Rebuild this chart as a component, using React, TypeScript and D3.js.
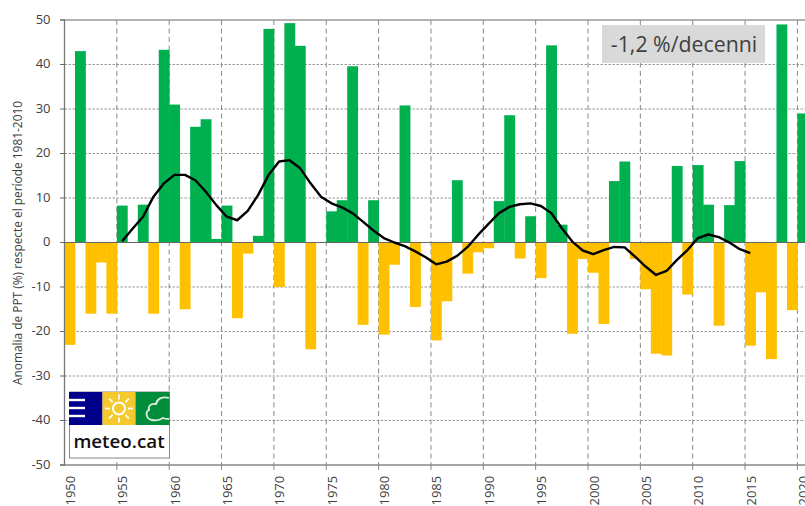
import React from "react";
import * as d3 from "d3";

const years = d3.range(1950, 2021);
const anomalies = [
  -23, 43, -16, -4.5, -16, 8.3, 0, 8.5, -16, 43.3,
  31, -15, 26, 27.7, 0.8, 8.3, -17, -2.5, 1.5, 48,
  -10, 49.3, 44.2, -24, 0, 7, 9.5, 39.6, -18.5, 9.5,
  -20.7, -5, 30.8, -14.5, 0, -22, -13.2, 14, -7, -2.2,
  -1.3, 9.3, 28.6, -3.6, 5.9, -8, 44.3, 4, -20.5, -3.7,
  -6.8, -18.3, 13.8, 18.2, -3.7, -10.5, -25, -25.4, 17.2, -11.7,
  17.4, 8.5, -18.7, 8.4, 18.3, -23.2, -11.2, -26.2, 49, -15.2,
  29,
];
const smoothYears = d3.range(1955, 2016);
const smoothValues = [
  0.3, 3.1, 5.8, 10.3, 13.3, 15.2, 15.2, 14, 11.4, 8.4,
  5.8, 5, 7.1, 10.7, 15.2, 18.2, 18.5, 16.7, 13.3, 10.3,
  8.8, 7.9, 6.6, 4.7, 2.7, 1, 0, -0.8, -2, -3.3,
  -4.9, -4.3, -3, -1, 1.7, 4.2, 6.6, 8, 8.6, 8.8,
  8.2, 6.6, 3.2, 0.2, -1.8, -2.6, -1.7, -1, -1.1, -3.2,
  -5.4, -7.3, -6.4, -3.9, -1.7, 1, 1.8, 1.2, 0, -1.5,
  -2.4,
];
const yTicks = [50, 40, 30, 20, 10, 0, -10, -20, -30, -40, -50];
const xTicks = d3.range(1950, 2021, 5);
const yTitle = "Anomalia de PPT (%) respecte el període 1981-2010";
const trendLabel = "-1,2 %/decenni";
const logoText = "meteo.cat";

const GREEN = "#00B050";
const AMBER = "#FFC000";
const FONT = "'Open Sans', sans-serif";

export default function App() {
  const x = d3.scaleLinear().domain([1950, 2021]).range([64.5, 64.5 + 71 * 10.47]);
  const y = d3.scaleLinear().domain([-50, 50]).range([465, 20]);
  const bw = x(1951) - x(1950);
  const line = d3
    .line<number>()
    .x((_, i) => x(smoothYears[i]) + bw / 2)
    .y((d) => y(d));
  return (
    <svg
      width={805}
      height={506}
      style={{ position: "absolute", left: 0, top: 0, background: "#fff" }}
    >
      <defs>
        <filter id="soft" x="-2%" y="-2%" width="104%" height="104%">
          <feGaussianBlur stdDeviation="0.45" />
        </filter>
      </defs>
      <g filter="url(#soft)">
        {yTicks.filter((t) => t !== 0 && t !== 50 && t !== -50).map((t) => (
          <line key={t} x1={64.5} x2={805} y1={y(t)} y2={y(t)} stroke="#999" strokeWidth={1} strokeDasharray="2.5 1.5" />
        ))}
        {xTicks.slice(1).map((t) => (
          <line key={t} x1={x(t)} x2={x(t)} y1={20} y2={465} stroke="#888" strokeWidth={1} strokeDasharray="5 3.5" />
        ))}
        {years.map((yr, i) => {
          const v = anomalies[i];
          if (v === 0) return null;
          return (
            <rect
              key={yr}
              x={x(yr)}
              width={bw + 0.4}
              y={v > 0 ? y(v) : y(0)}
              height={Math.abs(y(v) - y(0))}
              fill={v > 0 ? GREEN : AMBER}
            />
          );
        })}
        <line x1={60} x2={805} y1={y(0)} y2={y(0)} stroke="#666" strokeWidth={1} />
        <line x1={60} x2={805} y1={20} y2={20} stroke="#999" strokeWidth={1.3} />
        <line x1={60} x2={805} y1={465} y2={465} stroke="#888" strokeWidth={1.3} />
        <line x1={64.5} x2={64.5} y1={20} y2={465} stroke="#777" strokeWidth={1.3} />
        {yTicks.map((t) => (
          <line key={t} x1={60} x2={65} y1={y(t)} y2={y(t)} stroke="#666" strokeWidth={1} />
        ))}
        {xTicks.slice(1).map((t) => (
          <line key={t} x1={x(t)} x2={x(t)} y1={465} y2={470} stroke="#888" strokeWidth={1} />
        ))}
        <path d={line(smoothValues) ?? ""} fill="none" stroke="#000" strokeWidth={2.4} strokeLinejoin="round" />
        <rect x={602} y={25} width={163} height={38} fill="#D9D9D9" />
        <g>
          <rect x={69.5} y={392} width={100} height={66} fill="#fff" stroke="#888" strokeWidth={1} />
          <rect x={69} y={392} width={33.5} height={33} fill="#00008B" />
          <rect x={102.5} y={392} width={33} height={33} fill="#F5C82E" />
          <rect x={135.5} y={392} width={34} height={33} fill="#008C3A" />
          {[400, 408, 416].map((ly) => (
            <line key={ly} x1={69} x2={85} y1={ly} y2={ly} stroke="#fff" strokeWidth={2.4} />
          ))}
          <circle cx={119} cy={408.5} r={6} fill="none" stroke="#fff" strokeWidth={2} />
          {d3.range(0, 8).map((k) => {
            const a = (k * Math.PI) / 4;
            return (
              <line
                key={k}
                x1={119 + 9 * Math.cos(a)}
                y1={408.5 + 9 * Math.sin(a)}
                x2={119 + 14 * Math.cos(a)}
                y2={408.5 + 14 * Math.sin(a)}
                stroke="#fff"
                strokeWidth={1.8}
              />
            );
          })}
          <path
            d="M169 398 C162 396 157 399 156 404 C150 403 148 407 149 410 C145 412 146 419 152 420 C157 421 160 420 163 418 C165 419 167 419 169 419"
            fill="none"
            stroke="#DDEFE0"
            strokeWidth={1.8}
          />
        </g>
      </g>
      <text x={684} y={52} textAnchor="middle" fontFamily={FONT} fontSize={21.3} fill="#404040">
        {trendLabel}
      </text>
      <text x={119} y={448} textAnchor="middle" fontFamily={FONT} fontWeight={600} fontSize={18.8} fill="#111">
        {logoText}
      </text>
      {yTicks.map((t) => (
        <text key={t} x={50.5} y={y(t)} dy="0.3em" textAnchor="end" fontFamily={FONT} fontSize={13} fill="#404040">
          {t}
        </text>
      ))}
      {xTicks.map((t) => (
        <text
          key={t}
          transform={`translate(${x(t) + 10.5},505.5) rotate(-90)`}
          textAnchor="start"
          fontFamily={FONT}
          fontSize={13}
          fill="#404040"
        >
          {t}
        </text>
      ))}
      <text
        transform="translate(22,243) rotate(-90)"
        textAnchor="middle"
        fontFamily={FONT}
        fontSize={11.9}
        fill="#404040"
      >
        {yTitle}
      </text>
    </svg>
  );
}
